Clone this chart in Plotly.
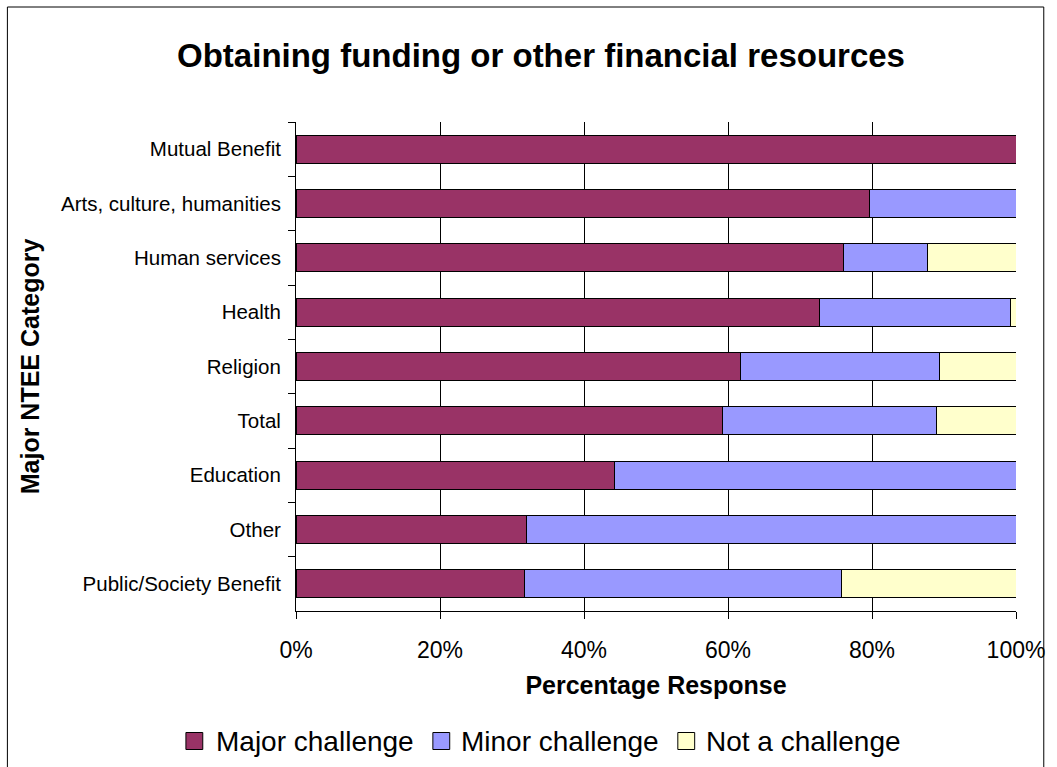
import plotly.graph_objects as go

categories = ["Mutual Benefit", "Arts, culture, humanities", "Human services", "Health",
              "Religion", "Total", "Education", "Other", "Public/Society Benefit"]
major = [100.0, 79.7, 76.1, 72.7, 61.7, 59.3, 44.3, 32.0, 31.8]
minor = [0.0, 20.3, 11.6, 26.6, 27.7, 29.7, 55.7, 68.0, 44.0]
not_ch = [0.0, 0.0, 12.3, 0.7, 10.6, 11.0, 0.0, 0.0, 24.2]

series_names = ["Major challenge", "Minor challenge", "Not a challenge"]
colors = ["#993366", "#9999FF", "#FFFFCC"]
tick_vals = [0, 20, 40, 60, 80, 100]
tick_text = ["0%", "20%", "40%", "60%", "80%", "100%"]

FONT = "Liberation Sans, Arial, sans-serif"
W, H = 1057, 767
L, R, T, B = 296, 35, 122, 156
PW, PH = W - L - R, H - T - B


def px_x(px):
    return (px - L) / PW


def px_y(py):
    return (H - B - py) / PH


fig = go.Figure()
for name, vals, col in zip(series_names, [major, minor, not_ch], colors):
    fig.add_trace(go.Bar(
        y=categories, x=vals, name=name, orientation="h", showlegend=False,
        marker=dict(color=col, line=dict(color="black", width=1)),
    ))

# custom legend (larger squares than Plotly's built-in legend symbols)
legend_sq_x = [185, 434, 681]
legend_txt_x = [213, 460, 707]
legend_y = 741
shapes = [dict(type="rect", xref="paper", yref="paper",
               x0=px_x(5), x1=px_x(1050), y0=px_y(775), y1=px_y(7),
               line=dict(color="black", width=1), fillcolor="rgba(0,0,0,0)", layer="below")]
annotations = []
for name, col, sx, tx in zip(series_names, colors, legend_sq_x, legend_txt_x):
    shapes.append(dict(type="rect", xref="paper", yref="paper",
                       x0=px_x(sx), x1=px_x(sx + 17), y0=px_y(legend_y + 8.5), y1=px_y(legend_y - 8.5),
                       line=dict(color="black", width=1), fillcolor=col))
    annotations.append(dict(text=name, xref="paper", yref="paper", x=px_x(tx), y=px_y(legend_y),
                            xanchor="left", yanchor="middle", showarrow=False,
                            font=dict(size=28, family=FONT, color="black")))

fig.update_layout(
    barmode="stack",
    bargap=0.48,
    width=W, height=H,
    margin=dict(l=L, r=R, t=T, b=B),
    paper_bgcolor="white", plot_bgcolor="white",
    font=dict(family=FONT, color="black"),
    title=dict(text="<b>Obtaining funding or other financial resources</b>",
               x=541 / W, xanchor="center", y=1 - 55 / H, yanchor="middle",
               font=dict(size=33, family=FONT, color="black")),
    showlegend=False,
    xaxis=dict(range=[0, 100], tickvals=tick_vals, ticktext=tick_text,
               showgrid=True, gridcolor="black", gridwidth=1,
               showline=True, linecolor="black", linewidth=1,
               ticks="outside", ticklen=7, tickcolor="black",
               ticklabelstandoff=11,
               tickfont=dict(size=23, family=FONT),
               title=dict(text="<b>Percentage Response</b>", font=dict(size=25, family=FONT), standoff=14),
               zeroline=False, fixedrange=True),
    yaxis=dict(autorange="reversed", type="category",
               showline=True, linecolor="black", linewidth=1,
               ticks="outside", ticklen=7, tickcolor="black", tickson="boundaries",
               ticklabelstandoff=10,
               tickfont=dict(size=20.5, family=FONT),
               title=dict(text="<b>Major NTEE Category</b>", font=dict(size=25, family=FONT), standoff=14),
               showgrid=False, fixedrange=True),
    shapes=shapes,
    annotations=annotations,
)

fig.write_html("out.html")
